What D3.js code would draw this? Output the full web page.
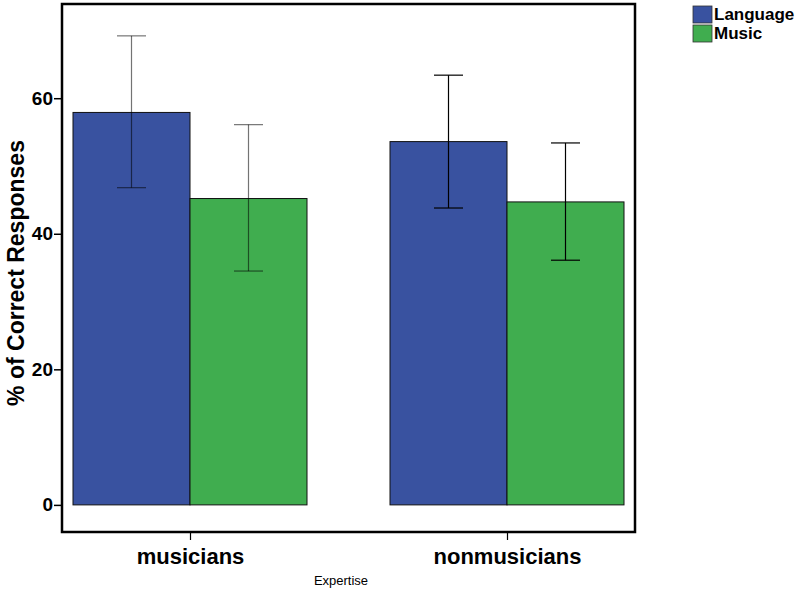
<!DOCTYPE html>
<html><head><meta charset="utf-8">
<script src="https://cdn.jsdelivr.net/npm/d3@7"></script>
<style>body{margin:0;background:#fff}svg{display:block}text{font-family:Arial,"Liberation Sans",sans-serif}</style>
</head><body>
<svg id="c" width="798" height="591"></svg>
<script>
const categories = ["musicians", "nonmusicians"];
const seriesNames = ["Language", "Music"];
const languageMeans = [57.9, 53.6];
const languageLow = [46.8, 43.8];
const languageHigh = [69.2, 63.4];
const musicMeans = [45.2, 44.7];
const musicLow = [34.5, 36.1];
const musicHigh = [56.1, 53.4];
const yTicks = [0, 20, 40, 60];
const colors = ["#3952a0", "#40ad4f"];
const errOpacity = [0.55, 1];

const svg = d3.select("#c");
const frame = {l: 62, r: 635, t: 4, b: 532};
const y = d3.scaleLinear().domain([-4, 73.9]).range([frame.b, frame.t]);
const x = d3.scalePoint().domain(categories).range([190, 507]);
const bw = 117;
const series = [
  {name: seriesNames[0], means: languageMeans, lo: languageLow, hi: languageHigh, off: -1},
  {name: seriesNames[1], means: musicMeans, lo: musicLow, hi: musicHigh, off: 0}
];

// bars
series.forEach((s, si) => {
  svg.append("g").selectAll("rect").data(categories).join("rect")
    .attr("x", d => x(d) + s.off * bw)
    .attr("y", (d, i) => y(s.means[i]))
    .attr("width", bw)
    .attr("height", (d, i) => y(0) - y(s.means[i]))
    .attr("fill", colors[si])
    .attr("stroke", "#111").attr("stroke-width", 1);
});
// error bars
series.forEach((s, si) => {
  categories.forEach((c, i) => {
    const cx = x(c) + s.off * bw + bw / 2;
    const g = svg.append("g").attr("stroke", "#000").attr("stroke-opacity", errOpacity[i]).attr("stroke-width", 1.2);
    g.append("line").attr("x1", cx).attr("x2", cx).attr("y1", y(s.hi[i])).attr("y2", y(s.lo[i]));
    g.append("line").attr("x1", cx - 14.5).attr("x2", cx + 14.5).attr("y1", y(s.hi[i])).attr("y2", y(s.hi[i]));
    g.append("line").attr("x1", cx - 14.5).attr("x2", cx + 14.5).attr("y1", y(s.lo[i])).attr("y2", y(s.lo[i]));
  });
});

// frame
svg.append("rect").attr("x", frame.l).attr("y", frame.t)
  .attr("width", frame.r - frame.l).attr("height", frame.b - frame.t)
  .attr("fill", "none").attr("stroke", "#000").attr("stroke-width", 2.5);

// y axis
const ya = svg.append("g").attr("transform", `translate(${frame.l - 1},0)`)
  .call(d3.axisLeft(y).tickValues(yTicks).tickSize(7).tickPadding(1).tickFormat(d3.format("d")));
ya.select(".domain").remove();
ya.selectAll("line").attr("stroke", "#000").attr("stroke-width", 1.5);
ya.selectAll("text").attr("font-size", 19).attr("font-weight", "bold").attr("fill", "#000").attr("font-family", "Arial, Liberation Sans, sans-serif");

// x axis
const xa = svg.append("g").attr("transform", `translate(0,${frame.b + 1})`)
  .call(d3.axisBottom(x).tickSize(7).tickPadding(8));
xa.select(".domain").remove();
xa.selectAll("line").attr("stroke", "#000").attr("stroke-width", 1.2);
xa.selectAll("text").attr("font-size", 22).attr("font-weight", "bold").attr("fill", "#000").attr("font-family", "Arial, Liberation Sans, sans-serif");

// axis titles
svg.append("text").attr("transform", "translate(24,273) rotate(-90)")
  .attr("text-anchor", "middle").attr("font-size", 23).attr("font-weight", "bold").text("% of Correct Responses");
svg.append("text").attr("x", 341).attr("y", 585).attr("text-anchor", "middle")
  .attr("font-size", 13).attr("font-family", "Open Sans, sans-serif").text("Expertise");

// legend
const lg = svg.append("g").attr("transform", "translate(693,6)");
seriesNames.forEach((n, i) => {
  lg.append("rect").attr("x", 0).attr("y", i * 19).attr("width", 19).attr("height", 17)
    .attr("fill", colors[i]).attr("stroke", "#333").attr("stroke-width", 0.8);
  lg.append("text").attr("x", 21).attr("y", i * 19 + 14).attr("font-size", 17).attr("font-weight", "bold").text(n);
});
</script>
</body></html>
